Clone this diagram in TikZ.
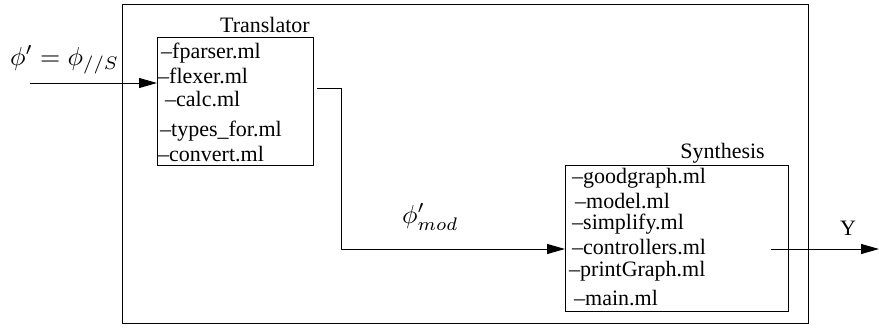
\documentclass[tikz,border=0pt]{standalone}
\usepackage{fontspec}
\usepackage{graphicx}
\setmainfont{Liberation Serif}
\usetikzlibrary{arrows.meta}
\newcommand{\bigmath}[1]{\scalebox{2.6}{\fontsize{10}{12}\selectfont$#1$}}
\begin{document}
\begin{tikzpicture}[x=1pt,y=-1pt,
  frame/.style={draw, line width=1pt, inner sep=0pt, anchor=north west},
  item/.style={inner sep=0pt, anchor=base west, font=\fontsize{22}{26}\selectfont},
  title/.style={inner sep=0pt, anchor=base east, font=\fontsize{22}{26}\selectfont},
  mlabel/.style={inner sep=0pt, anchor=base west},
  flow/.style={line width=1pt, -{Triangle[length=18pt,width=10pt]}}]
\useasboundingbox (0,0) rectangle (879,327);

% enclosing system frame
\node[frame, minimum width=686pt, minimum height=319pt] (sys) at (122,4) {};

% translator module
\node[frame, minimum width=156pt, minimum height=128pt] (trans) at (157,37) {};
\node[title] (translabel) at (310,32) {Translator};
\node[item] (t1) at (161,58) {--fparser.ml};
\node[item] (t2) at (158,83) {--flexer.ml};
\node[item] (t3) at (165,106) {--calc.ml};
\node[item] (t4) at (160,136) {--types\_for.ml};
\node[item] (t5) at (158,161) {--convert.ml};

% synthesis module
\node[frame, minimum width=223pt, minimum height=146pt] (synth) at (565,165) {};
\node[title] (synthlabel) at (765,158) {Synthesis};
\node[item] (s1) at (572,183) {--goodgraph.ml};
\node[item] (s2) at (575,208) {--model.ml};
\node[item] (s3) at (572,229) {--simplify.ml};
\node[item] (s4) at (572,254) {--controllers.ml};
\node[item] (s5) at (569,276) {--printGraph.ml};
\node[item] (s6) at (574,305) {--main.ml};

% connector end points
\coordinate (in) at (30,83);
\coordinate (transout) at (317,88);
\coordinate (bend) at (341,88);
\coordinate (synthin) at (565,249);
\coordinate (synthout) at (771,249);
\coordinate (out) at (879,249);

% signal flow
\draw[flow] (in) -- (trans.west |- in);
\draw[flow] (transout) -- (bend) |- (synthin);
\draw[flow] (synthout) -- (out);

% signal labels
\node[mlabel] (phiin) at (10,65) {\bigmath{\phi' = \phi_{//S}}};
\node[mlabel] (phimod) at (402,223) {\bigmath{\phi'_{mod}}};
\node[item] (ylabel) at (840,235) {Y};
\end{tikzpicture}
\end{document}
